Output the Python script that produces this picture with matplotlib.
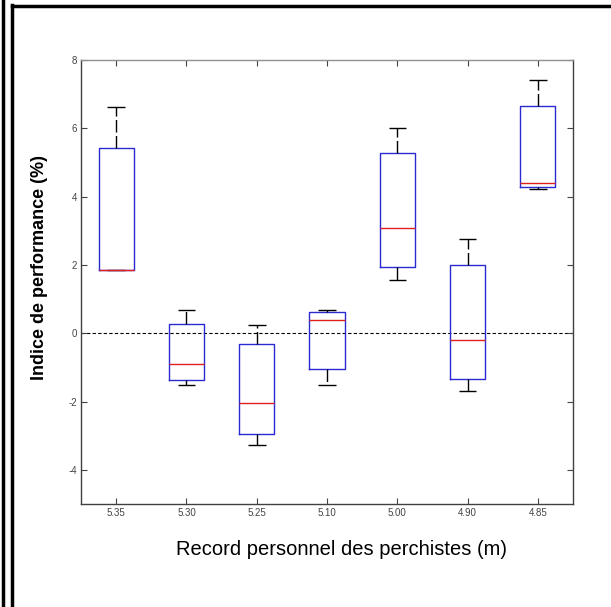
import matplotlib.pyplot as plt
from matplotlib.lines import Line2D

plt.rcParams['font.family'] = ['Liberation Sans', 'DejaVu Sans']

# record personnel des perchistes (m)
records = ["5.35", "5.30", "5.25", "5.10", "5.00", "4.90", "4.85"]

# boxplot stats (indice de performance, %)
whislo = [1.85, -1.52, -3.28, -1.52, 1.57, -1.69, 4.21]
q1 = [1.85, -1.36, -2.96, -1.04, 1.94, -1.33, 4.27]
med = [1.85, -0.89, -2.03, 0.38, 3.09, -0.21, 4.39]
q3 = [5.42, 0.28, -0.32, 0.62, 5.27, 1.99, 6.64]
whishi = [6.61, 0.69, 0.23, 0.69, 6.02, 2.75, 7.42]

stats = []
for i, lab in enumerate(records):
    stats.append({"label": lab, "whislo": whislo[i], "q1": q1[i], "med": med[i],
                  "q3": q3[i], "whishi": whishi[i], "fliers": []})

fig = plt.figure(figsize=(6.11, 6.07), dpi=100)
ax = fig.add_axes([0.1326, 0.1697, 0.8052, 0.7315])

ax.axhline(0, color="black", lw=0.8, ls=(0, (3, 2)), zorder=1)

ax.bxp(stats, positions=range(1, 8), widths=0.5, showfliers=False,
       boxprops=dict(color="#2a2ad0", lw=1.0),
       medianprops=dict(color="#e02020", lw=1.0),
       whiskerprops=dict(color="black", lw=1.0, ls=(0, (9, 2.5))),
       capprops=dict(color="black", lw=1.0, solid_capstyle="butt"),
       capwidths=0.25)

ax.set_xlim(0.5, 7.5)
ax.set_ylim(-5, 8)
ax.set_yticks([-4, -2, 0, 2, 4, 6, 8])
ax.set_yticklabels(["-4", "-2", "0", "2", "4", "6", "8"])
ax.tick_params(direction="in", top=True, right=True, length=4, width=0.8,
               labelsize=7, labelcolor="#444444", color="#444444", pad=3)

for s in ax.spines.values():
    s.set_color("#404040")
    s.set_linewidth(1.0)
ax.spines["top"].set_color("#909090")

ax.set_ylabel("Indice de performance (%)", fontsize=13, fontweight="bold")
ax.yaxis.set_label_coords(-0.068, 0.533)
ax.set_xlabel("Record personnel des perchistes (m)", fontsize=14.5)
ax.xaxis.set_label_coords(0.53, -0.082)

# cadre autour de la figure
lw = 2.5
fig.add_artist(Line2D([2.5 / 611, 2.5 / 611], [0, 1], color="black", lw=lw))
fig.add_artist(Line2D([12 / 611, 12 / 611], [0, 1 - 5 / 607], color="black", lw=lw))
fig.add_artist(Line2D([12 / 611, 1], [1 - 6 / 607, 1 - 6 / 607], color="black", lw=lw))

fig.savefig("out.png", dpi=100)
